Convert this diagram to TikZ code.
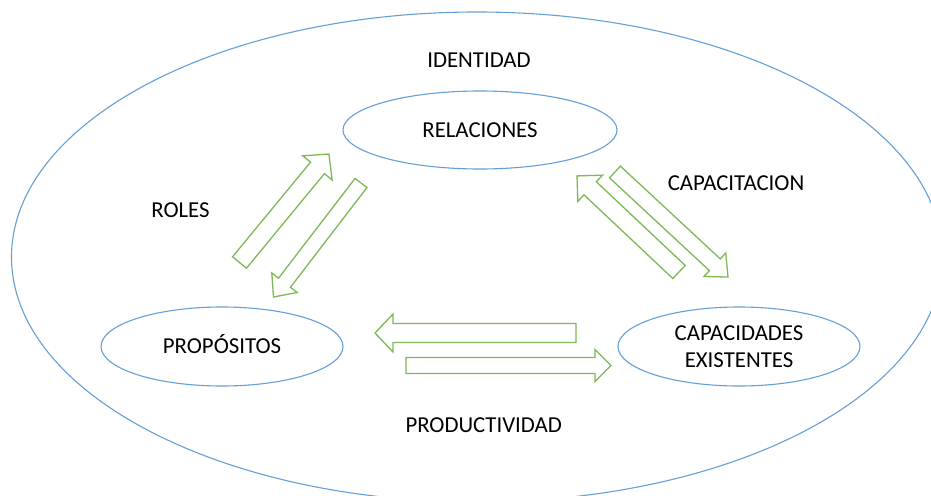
\documentclass[tikz,border=0pt]{standalone}
\usepackage{fontspec}
\setmainfont{Carlito}
\usetikzlibrary{shapes.geometric}
\definecolor{ellblue}{RGB}{100,160,215}
\definecolor{arrgreen}{RGB}{125,185,85}
\newcommand\blockarr[7]{%
  \begin{scope}[shift={(#1,#2)},rotate=#3]
    \draw[barrow] (0,#5) -- ({#4-#7},#5) -- ({#4-#7},#6) -- (#4,0)
      -- ({#4-#7},-#6) -- ({#4-#7},-#5) -- (0,-#5) -- cycle;
  \end{scope}}
\begin{document}
\begin{tikzpicture}[x=1pt,y=-1pt,
  ell/.style={ellipse,draw=ellblue,line width=1.1pt,inner sep=0pt,
    font=\fontsize{22.8}{27}\selectfont,align=center},
  lbl/.style={inner sep=0pt,font=\fontsize{22.8}{27}\selectfont,
    text height=14.6pt,text depth=0pt},
  barrow/.style={draw=arrgreen,line width=1.3pt,line join=miter}]
\useasboundingbox (0,0) rectangle (931,495);
\clip (0,0) rectangle (931,495);
\fill[white] (0,0) rectangle (931,495);
\node[ell,minimum width=931pt,minimum height=490pt] (outer) at (477,257) {};
\node[lbl] (ident) at (479,60) {IDENTIDAD};
\node[ell,minimum width=274pt,minimum height=78pt,text height=14.6pt,text depth=0pt] (rel) at (480,130) {RELACIONES};
\node[ell,minimum width=242pt,minimum height=79pt,text height=14.6pt,text depth=0pt] (prop) at (222,346.5) {PROPÓSITOS};
\node[ell,minimum width=242pt,minimum height=79pt] (cap) at (739,346.5) {CAPACIDADES\\EXISTENTES};
\node[lbl] (roles) at (180.5,210) {ROLES};
\node[lbl] (capac) at (736,183) {CAPACITACION};
\node[lbl] (prod) at (483.7,424.7) {PRODUCTIVIDAD};
% block arrows: tail x, tail y, angle, length, shaft half-width, head half-width, head length
\blockarr{239.5}{262.5}{50.5}{140.6}{9}{19}{18}
\blockarr{361}{183}{-127.5}{143.7}{7.5}{16}{18}
\blockarr{679}{272}{136.7}{140.1}{9}{18}{18}
\blockarr{615}{172}{-42.9}{154.3}{8}{16}{18}
\blockarr{576}{333}{180}{201}{9.5}{19}{18}
\blockarr{406}{365.5}{0}{205}{8}{16}{16}
\end{tikzpicture}
\end{document}
